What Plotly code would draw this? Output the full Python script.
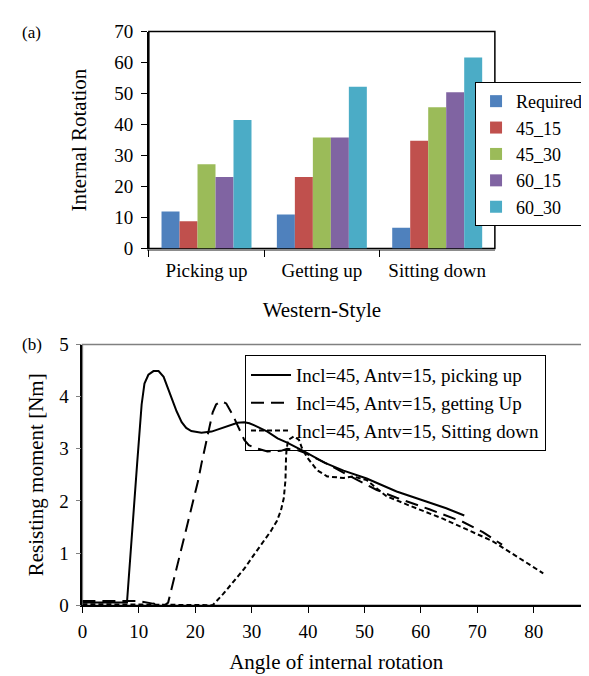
import plotly.graph_objects as go

# ---------------- data: (a) bar chart ----------------
categories = ["Picking up", "Getting up", "Sitting down"]
series_names = ["Required", "45_15", "45_30", "60_15", "60_30"]
required = [12.0, 11.0, 6.7]
v45_15 = [8.8, 23.1, 34.8]
v45_30 = [27.2, 35.8, 45.6]
v60_15 = [23.1, 35.8, 50.4]
v60_30 = [41.5, 52.2, 61.6]
bar_colors = ["#4F81BD", "#C0504D", "#9BBB59", "#8064A2", "#4BACC6"]

# ---------------- data: (b) line chart ----------------
angle_pick = [0, 4, 7.9, 9.7, 10.5, 11.0, 11.7, 12.6, 13.5, 14.4, 15.1, 15.8, 16.7, 17.6,
              18.4, 19.3, 21.1, 22.9, 25.2, 27.5, 28.7, 29.6, 30.5, 32.8, 34.6, 36.3,
              39.3, 43.0, 46.3, 50.4, 55.7, 61.5, 64.5, 67.7]
moment_pick = [0.05, 0.05, 0.05, 2.71, 3.85, 4.25, 4.42, 4.49, 4.49, 4.38, 4.18, 3.95, 3.72, 3.51,
               3.40, 3.34, 3.31, 3.33, 3.42, 3.50, 3.51, 3.49, 3.45, 3.33, 3.20, 3.12,
               2.95, 2.73, 2.58, 2.43, 2.18, 1.97, 1.86, 1.72]

angle_get = [0, 10, 12.5, 14.6, 15.2, 20.5, 21.1, 22.3, 23.1, 23.7, 24.6, 25.5, 26.7, 27.5,
             28.7, 29.5, 30.5, 32.8, 35.2, 36.3, 38.0, 39.3, 43.4, 47.5, 52.2, 55.7, 61.5,
             67.4, 71.0, 74.4]
moment_get = [0.08, 0.08, 0.03, 0.0, 0.05, 2.38, 2.71, 3.27, 3.70, 3.85, 3.91, 3.87, 3.64, 3.45,
              3.17, 3.07, 3.02, 2.95, 2.96, 3.00, 2.98, 2.93, 2.71, 2.47, 2.21, 2.06, 1.84,
              1.60, 1.40, 1.16]

angle_sit = [0, 17, 23.1, 25, 27, 28.7, 30.5, 32, 33.4, 34.5, 35.2, 35.7, 36.0, 36.1, 36.2,
             36.5, 37.5, 38.4, 38.9, 39.8, 41.6, 43.4, 46.3, 48.0, 50.4, 52.2, 53.9, 58.0,
             63.9, 72.7, 81.7]
moment_sit = [0.02, 0.0, 0.0, 0.22, 0.47, 0.70, 0.98, 1.20, 1.42, 1.62, 1.82, 2.05, 2.40, 2.83, 3.00,
              3.17, 3.24, 3.17, 3.02, 2.84, 2.59, 2.47, 2.44, 2.47, 2.40, 2.24, 2.09, 1.91,
              1.66, 1.23, 0.61]

line_names = ["Incl=45, Antv=15, picking up",
              "Incl=45, Antv=15, getting Up",
              "Incl=45, Antv=15, Sitting down"]

FONT = "Liberation Serif"

def f(size):
    return dict(family=FONT, size=size, color="black")

fig = go.Figure()

bar_values = [required, v45_15, v45_30, v60_15, v60_30]
for name, vals, col in zip(series_names, bar_values, bar_colors):
    fig.add_trace(go.Bar(x=categories, y=vals, name=name, marker=dict(color=col, line=dict(width=0)),
                         xaxis="x", yaxis="y", legend="legend"))

line_dashes = ["solid", "13px,7px", "5px,3px"]
for name, xs, ys, dash in zip(line_names, [angle_pick, angle_get, angle_sit],
                              [moment_pick, moment_get, moment_sit], line_dashes):
    fig.add_trace(go.Scatter(x=xs, y=ys, name=name, mode="lines",
                             line=dict(color="black", width=2, dash=dash),
                             xaxis="x2", yaxis="y2", legend="legend2"))

W, H = 589, 676
def px_x(p):
    return p / W
def px_y(p):
    return 1 - p / H

fig.update_layout(
    width=W, height=H,
    margin=dict(l=0, r=0, t=0, b=0),
    paper_bgcolor="white", plot_bgcolor="white",
    font=f(18),
    barmode="group", bargap=0.22, bargroupgap=0,
    xaxis=dict(domain=[px_x(137), px_x(486)], anchor="y", type="category",
               showline=True, linecolor="#8c8c8c", linewidth=1.5,
               ticks="outside", tickson="boundaries", ticklen=7, tickcolor="black",
               tickfont=f(19), showgrid=False, ticklabelstandoff=4,
               title=dict(text="Western-Style", font=f(21), standoff=22)),
    yaxis=dict(domain=[px_y(238), px_y(14)], anchor="x", range=[0, 70], dtick=10,
               showline=True, linecolor="black", linewidth=1.5,
               ticks="outside", ticklen=6, tickcolor="black", showgrid=False, zeroline=False,
               tickfont=f(19), ticklabelstandoff=4,
               title=dict(text="Internal Rotation", font=f(21), standoff=22)),
    xaxis2=dict(domain=[px_x(70), px_x(582)], anchor="y2", range=[0, 90], dtick=10,
                showline=True, linecolor="black", linewidth=1.5,
                ticks="outside", ticklen=6, tickcolor="black", showgrid=False, zeroline=False,
                tickfont=f(19), ticklabelstandoff=2,
                title=dict(text="Angle of internal rotation", font=f(21), standoff=14)),
    yaxis2=dict(domain=[px_y(606), px_y(337)], anchor="x2", range=[0, 5], dtick=1,
                showline=True, linecolor="black", linewidth=1.5,
                ticks="outside", ticklen=5, tickcolor="#808080", showgrid=False, zeroline=False,
                tickfont=f(19), ticklabelstandoff=3,
                title=dict(text="Resisting moment [Nm]", font=f(21), standoff=10)),
    legend=dict(x=px_x(466), xanchor="left", y=px_y(66), yanchor="top",
                bordercolor="black", borderwidth=1, bgcolor="white",
                font=f(18), itemwidth=30, tracegroupgap=0),
    legend2=dict(x=px_x(234), xanchor="left", y=px_y(348), yanchor="top",
                 bordercolor="black", borderwidth=1, bgcolor="rgba(255,255,255,0)",
                 font=f(19), itemwidth=40, tracegroupgap=0),
    shapes=[
        dict(type="rect", xref="x domain", yref="y domain", x0=0, x1=1, y0=0, y1=1,
             line=dict(color="black", width=1.5), layer="below"),
        dict(type="rect", xref="x2 domain", yref="y2 domain", x0=0, x1=1, y0=0, y1=1,
             line=dict(color="#808080", width=1.5), layer="below"),
    ],
    annotations=[
        dict(text="(a)", xref="paper", yref="paper", x=px_x(7), y=px_y(15),
             xanchor="left", yanchor="middle", showarrow=False, font=f(17)),
        dict(text="(b)", xref="paper", yref="paper", x=px_x(7), y=px_y(337),
             xanchor="left", yanchor="middle", showarrow=False, font=f(17)),
    ],
)

fig.write_html("out.html")
